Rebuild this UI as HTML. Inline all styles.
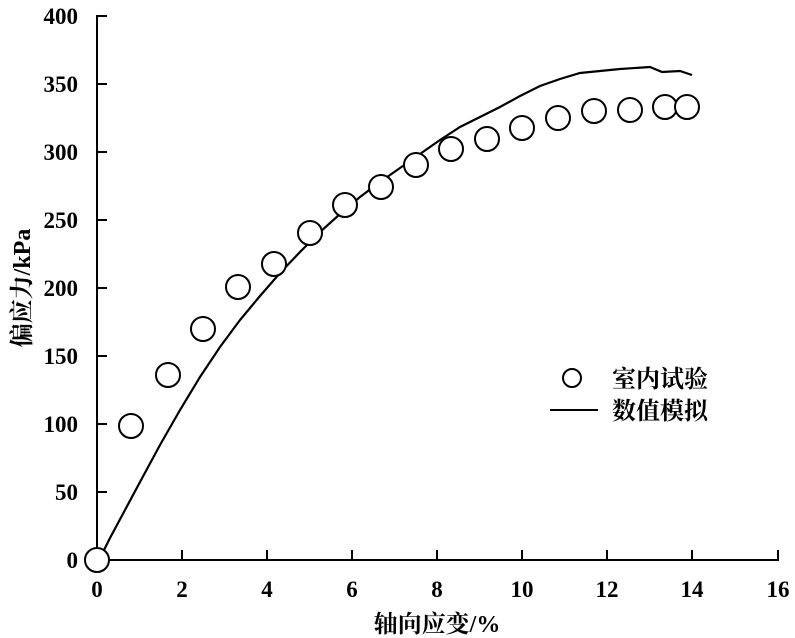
<!DOCTYPE html><html><head><style>body{margin:0;background:#fff}svg{display:block}text{font-family:"Liberation Serif","Noto Serif CJK SC",serif;fill:#000;font-weight:bold}</style></head><body>
<svg width="795" height="638" viewBox="0 0 795 638">
<g stroke="#000" stroke-width="2" fill="none">
<line x1="97" y1="15" x2="97" y2="561"/><line x1="96" y1="560" x2="779" y2="560"/>
<g><line x1="182" y1="560" x2="182" y2="550"/><line x1="267" y1="560" x2="267" y2="550"/><line x1="352" y1="560" x2="352" y2="550"/><line x1="437" y1="560" x2="437" y2="550"/><line x1="522" y1="560" x2="522" y2="550"/><line x1="607" y1="560" x2="607" y2="550"/><line x1="692" y1="560" x2="692" y2="550"/><line x1="778" y1="560" x2="778" y2="550"/></g>
<g><line x1="97" y1="492" x2="107" y2="492"/><line x1="97" y1="424" x2="107" y2="424"/><line x1="97" y1="356" x2="107" y2="356"/><line x1="97" y1="288" x2="107" y2="288"/><line x1="97" y1="220" x2="107" y2="220"/><line x1="97" y1="152" x2="107" y2="152"/><line x1="97" y1="84" x2="107" y2="84"/><line x1="97" y1="16" x2="107" y2="16"/></g>
<path stroke-width="2.2" d="M101,556 L110,538 L125,510 L140,482 L160,445 L180,410 L200,377 L220,347 L240,320 L260,296 L280,273 L300,252 L320,232 L340,214 L360,197 L380,182 L400,168 L420,154 L440,140 L460,127 L480,117 L500,107 L520,96 L540,86 L560,79 L580,73 L600,71 L620,69 L650,67 L662,72 L680,71 L692,75"/>
<g fill="#fff" stroke-width="2">
<circle cx="97" cy="560" r="12"/><circle cx="131" cy="426" r="12"/><circle cx="168" cy="375" r="12"/><circle cx="203" cy="329" r="12"/><circle cx="238" cy="287" r="12"/><circle cx="274" cy="264" r="12"/><circle cx="310" cy="233" r="12"/><circle cx="345" cy="205" r="12"/><circle cx="381" cy="187" r="12"/><circle cx="416" cy="165" r="12"/><circle cx="451" cy="149" r="12"/><circle cx="487" cy="139" r="12"/><circle cx="522" cy="128" r="12"/><circle cx="558" cy="118" r="12"/><circle cx="594" cy="111" r="12"/><circle cx="630" cy="110" r="12"/><circle cx="665" cy="107" r="12"/><circle cx="687" cy="107" r="12"/>
<circle cx="572" cy="378" r="9"/></g>
<line x1="550" y1="410" x2="598" y2="410"/>
</g>
<g font-size="23" text-anchor="end">
<text x="78" y="568">0</text><text x="78" y="500">50</text><text x="78" y="432">100</text><text x="78" y="364">150</text><text x="78" y="296">200</text><text x="78" y="228">250</text><text x="78" y="160">300</text><text x="78" y="92">350</text><text x="78" y="24">400</text></g>
<g font-size="23" text-anchor="middle">
<text x="97" y="597">0</text><text x="182" y="597">2</text><text x="267" y="597">4</text><text x="352" y="597">6</text><text x="437" y="597">8</text><text x="522" y="597">10</text><text x="607" y="597">12</text><text x="692" y="597">14</text><text x="778" y="597">16</text>
<text x="437" y="632" font-size="24">轴向应变/%</text></g>
<text font-size="24" transform="translate(30,288) rotate(-90)" text-anchor="middle">偏应力/kPa</text>
<text x="612" y="387" font-size="24">室内试验</text><text x="612" y="419" font-size="24">数值模拟</text>
</svg></body></html>
